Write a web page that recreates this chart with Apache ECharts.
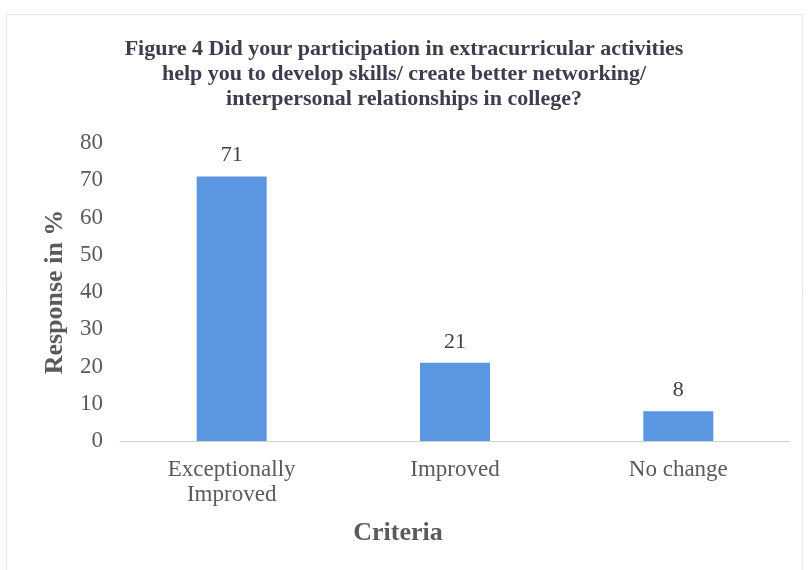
<!DOCTYPE html>
<html>
<head>
<meta charset="utf-8">
<script src="https://cdn.jsdelivr.net/npm/echarts@6/dist/echarts.min.js"></script>
<style>
  html, body { margin: 0; padding: 0; background: #ffffff; }
  #chart { width: 808px; height: 570px; }
</style>
</head>
<body>
<div id="chart"></div>
<script>
// Survey responses (percent) per criterion
const categories = ['Exceptionally\nImproved', 'Improved', 'No change'];
const responses = [71, 21, 8];
const yTicks = { min: 0, max: 80, interval: 10 };

const titleText = 'Figure 4 Did your participation in extracurricular activities\nhelp you to develop skills/ create better networking/\ninterpersonal relationships in college?';
const serif = '"Liberation Serif", "Times New Roman", serif';
const textGrey = '#5a5a5a';

const chart = echarts.init(document.getElementById('chart'), null, { renderer: 'canvas' });
chart.setOption({
  backgroundColor: '#ffffff',
  animation: false,
  graphic: [{
    type: 'rect',
    shape: { x: 6.5, y: 14.5, width: 796, height: 560 },
    style: { fill: 'none', stroke: '#e6e6e6', lineWidth: 1 },
    silent: true
  }],
  title: {
    text: titleText,
    left: 'center',
    top: 32,
    textStyle: {
      fontFamily: serif,
      fontWeight: 'bold',
      fontSize: 22,
      lineHeight: 25,
      color: '#3d3d4d'
    }
  },
  grid: { left: 120, right: 18, top: 143, bottom: 129, containLabel: false },
  xAxis: {
    type: 'category',
    data: categories,
    axisLine: { show: true, lineStyle: { color: '#d0d0d0', width: 1 } },
    axisTick: { show: false },
    axisLabel: {
      fontFamily: serif,
      fontSize: 23,
      lineHeight: 25,
      color: textGrey,
      margin: 16
    },
    name: 'Criteria',
    nameLocation: 'middle',
    nameGap: 79,
    nameTextStyle: {
      fontFamily: serif,
      fontWeight: 'bold',
      fontSize: 26,
      color: textGrey,
      // axis title sits left of the plot centre
      padding: [0, 114, 0, 0]
    }
  },
  yAxis: {
    type: 'value',
    min: yTicks.min,
    max: yTicks.max,
    interval: yTicks.interval,
    splitLine: { show: false },
    axisLine: { show: false },
    axisTick: { show: false },
    axisLabel: {
      fontFamily: serif,
      fontSize: 23,
      color: textGrey,
      margin: 17
    },
    name: 'Response in %',
    nameLocation: 'middle',
    nameGap: 52,
    nameTextStyle: {
      fontFamily: serif,
      fontWeight: 'bold',
      fontSize: 26,
      color: textGrey
    }
  },
  series: [{
    type: 'bar',
    data: responses,
    barWidth: 70,
    itemStyle: { color: '#5b96e1' },
    label: {
      show: true,
      position: 'top',
      distance: 10,
      fontFamily: serif,
      fontSize: 22,
      color: '#404040'
    }
  }]
});
</script>
</body>
</html>
